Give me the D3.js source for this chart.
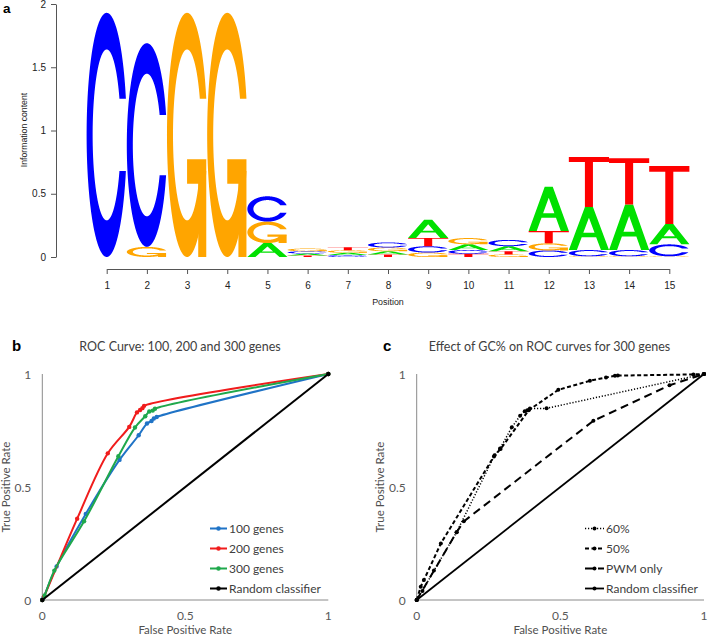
<!DOCTYPE html>
<html><head><meta charset="utf-8">
<script src="https://cdn.jsdelivr.net/npm/d3@7"></script>
<style>body{margin:0;background:#fff}</style>
</head><body>
<svg id="fig" width="708" height="636"></svg>
<script>
// ---------- Panel a: sequence logo data (bits) ----------
const positions = [1,2,3,4,5,6,7,8,9,10,11,12,13,14,15];
const bitsA = [0, 0, 0, 0, 0.11, 0.015, 0.018, 0.025, 0.145, 0.045, 0.04, 0.35, 0.34, 0.36, 0.16];
const bitsC = [1.93, 1.61, 0, 0, 0.20, 0.018, 0.015, 0.04, 0.05, 0.03, 0.05, 0.052, 0.05, 0.05, 0.095];
const bitsG = [0, 0.08, 1.93, 1.93, 0.17, 0.022, 0.02, 0.03, 0.035, 0.05, 0.02, 0.056, 0.005, 0.005, 0.005];
const bitsT = [0, 0, 0, 0, 0, 0.012, 0.025, 0.02, 0.065, 0.025, 0.025, 0.098, 0.395, 0.365, 0.46];
const logoTicks = [0, 0.5, 1, 1.5, 2];
const baseColors = {A:"#00e000", C:"#0000ff", G:"#ffa500", T:"#ff0000"};

// ---------- Panel b: ROC 100/200/300 genes ----------
const fpr100 = [0, 0.004, 0.05, 0.152, 0.27, 0.337, 0.366, 0.382, 0.39, 0.4, 1];
const tpr100 = [0, 0.01, 0.148, 0.381, 0.62, 0.729, 0.781, 0.792, 0.803, 0.81, 1];
const fpr200 = [0, 0.006, 0.122, 0.229, 0.304, 0.331, 0.342, 0.35, 0.356, 1];
const tpr200 = [0, 0.015, 0.36, 0.649, 0.766, 0.83, 0.841, 0.849, 0.859, 1];
const fpr300 = [0, 0.008, 0.042, 0.146, 0.266, 0.324, 0.36, 0.374, 0.386, 0.394, 1];
const tpr300 = [0, 0.02, 0.13, 0.348, 0.636, 0.763, 0.813, 0.834, 0.838, 0.846, 1];
const fprRandom = [0, 1];
const tprRandom = [0, 1];
const namesB = ["100 genes", "200 genes", "300 genes", "Random classifier"];
const colorsB = ["#1f73c6", "#f01c1c", "#1fa84c", "#000000"];

// ---------- Panel c: effect of GC% ----------
const fpr60 = [0, 0.02, 0.06, 0.139, 0.269, 0.29, 0.331, 0.36, 0.376, 0.385, 0.394, 0.452, 1];
const tpr60 = [0, 0.04, 0.13, 0.30, 0.635, 0.67, 0.764, 0.815, 0.835, 0.84, 0.847, 0.848, 1];
const fpr50 = [0, 0.014, 0.025, 0.084, 0.271, 0.292, 0.39, 0.493, 0.603, 0.659, 0.69, 0.70, 0.963, 1];
const tpr50 = [0, 0.059, 0.088, 0.25, 0.64, 0.668, 0.84, 0.93, 0.97, 0.985, 0.992, 0.993, 0.998, 1];
const fprPWM = [0, 0.139, 0.164, 0.615, 0.88, 1];
const tprPWM = [0, 0.30, 0.348, 0.793, 0.95, 1];
const namesC = ["60%", "50%", "PWM only", "Random classifier"];
const rocTicks = [0, 0.5, 1];

const svg = d3.select("#fig");
const ROCFONT = "Lato, 'Open Sans', sans-serif";
const GREY = "#595959";

// ================= Panel a =================
const xA = d3.scaleLinear().domain([1, 15]).range([106.7, 669.3]);
const yA = d3.scaleLinear().domain([0, 2]).range([257, 4]);
const gA = svg.append("g");

// seqLogo-style glyph outlines in unit box (x right, y up)
function arcPts(r, a0, a1, n) {
  return d3.range(n).map(i => { const a = a0 + (a1 - a0) * i / (n - 1); return [0.5 + r * Math.sin(a), 0.5 + r * Math.cos(a)]; });
}
function cShape() {
  const a1 = arcPts(0.5, 0.3 + Math.PI / 2, Math.PI, 100), a2 = arcPts(0.5, Math.PI, 1.5 * Math.PI, 100);
  const l = a1.concat(a2);
  const maxY = d3.max(a1, d => d[1]);
  const outer = l.concat(l.slice().reverse().map(d => [d[0], 1 - d[1]]));
  let i1 = arcPts(0.35, 0.3 + Math.PI / 2, Math.PI, 100).filter(d => d[1] <= maxY);
  i1[0] = [i1[0][0], maxY];
  const il = i1.concat(arcPts(0.35, Math.PI, 1.5 * Math.PI, 100));
  const inner = il.concat(il.slice().reverse().map(d => [d[0], 1 - d[1]]));
  return {poly: outer.concat(inner.slice().reverse()), r1: d3.max(a1, d => d[0])};
}
const glyphs = {
  A: [[[0,0],[0.4,1],[0.6,1],[1,0],[0.8,0],[0.68,0.3],[0.32,0.3],[0.2,0],[0,0]],
      [[0.36,0.4],[0.5,0.75],[0.64,0.4],[0.36,0.4]]],
  T: [[[0,1],[1,1],[1,0.9],[0.6,0.9],[0.6,0],[0.4,0],[0.4,0.9],[0,0.9]]],
  C: [cShape().poly],
  G: (() => { const c = cShape(); const r1 = c.r1, h1 = 0.4;
       return [c.poly, [[r1,h1],[0.5,h1],[0.5,h1-0.1],[r1-0.2,h1-0.1],[r1-0.2,0],[r1,0],[r1,h1]]]; })()
};

function drawLetter(ch, pos, base, h) {
  const xs = d3.scaleLinear().domain([0, 1]).range([xA(pos - 0.5), xA(pos + 0.5)]);
  const ys = d3.scaleLinear().domain([0, 1]).range([yA(base), yA(base + h)]);
  const line = d3.line().x(d => xs(d[0])).y(d => ys(d[1]));
  if (ch === "A") {
    gA.append("path").attr("d", glyphs.A.map(p => line(p) + "Z").join(""))
      .attr("fill", baseColors.A).attr("fill-rule", "evenodd");
  } else {
    glyphs[ch].forEach(p => gA.append("path").attr("d", line(p) + "Z").attr("fill", baseColors[ch]));
  }
}
positions.forEach((p, i) => {
  const letters = [
    {b:"A", v:bitsA[i]}, {b:"C", v:bitsC[i]}, {b:"G", v:bitsG[i]}, {b:"T", v:bitsT[i]}
  ].filter(d => d.v > 0).sort((a, b) => a.v - b.v);
  let base = 0;
  letters.forEach(l => { drawLetter(l.b, p, base, l.v); base += l.v; });
});

const axA = gA.append("g").attr("transform", "translate(56,0)")
  .call(d3.axisLeft(yA).tickValues(logoTicks).tickSize(5).tickSizeOuter(0).tickPadding(5).tickFormat(d => String(d)));
const axAx = gA.append("g").attr("transform", "translate(0,269)")
  .call(d3.axisBottom(xA).tickValues(positions).tickSize(5).tickSizeOuter(0).tickPadding(8).tickFormat(d => String(d)));
[axA, axAx].forEach(a => {
  a.selectAll("path,line").attr("stroke", "#555");
  a.selectAll("text").attr("font-family", "Liberation Sans").attr("font-size", 10).attr("fill", "#222");
});
gA.append("text").text("Position").attr("x", xA(8)).attr("y", 305)
  .attr("text-anchor", "middle").attr("font-family", "Liberation Sans").attr("font-size", 8.9).attr("fill", "#222");
gA.append("text").text("Information content")
  .attr("transform", "translate(27,130) rotate(-90)")
  .attr("text-anchor", "middle").attr("font-family", "Liberation Sans").attr("font-size", 8.7).attr("fill", "#222");
gA.append("text").text("a").attr("x", 3).attr("y", 12.5)
  .attr("font-family", "Liberation Sans").attr("font-weight", "bold").attr("font-size", 13.5).attr("fill", "#000");

// ================= ROC panels =================
function rocPanel(opts) {
  const x = d3.scaleLinear().domain([0, 1]).range([opts.x0, opts.x1]);
  const y = d3.scaleLinear().domain([0, 1]).range([600, 374]);
  const g = svg.append("g");
  g.append("line").attr("x1", x(0)).attr("x2", x(1)).attr("y1", y(0)).attr("y2", y(0)).attr("stroke", "#8a8a8a");
  g.append("line").attr("x1", x(0)).attr("x2", x(0)).attr("y1", y(0)).attr("y2", y(1)).attr("stroke", "#8a8a8a");
  rocTicks.forEach(t => {
    g.append("text").text(String(t)).attr("x", x(0) - 11).attr("y", y(t) + 4.5)
      .attr("text-anchor", "end").attr("font-family", ROCFONT).attr("font-size", 12).attr("fill", GREY);
    g.append("text").text(String(t)).attr("x", x(t)).attr("y", 620)
      .attr("text-anchor", "middle").attr("font-family", ROCFONT).attr("font-size", 12).attr("fill", GREY);
  });
  g.append("text").text("False Positive Rate").attr("x", (x(0) + x(1)) / 2).attr("y", 634)
    .attr("text-anchor", "middle").attr("font-family", ROCFONT).attr("font-size", 11.5).attr("fill", "#505050");
  g.append("text").text("True Positive Rate")
    .attr("transform", `translate(${x(0) - 32.5},${(y(0) + y(1)) / 2}) rotate(-90)`)
    .attr("text-anchor", "middle").attr("font-family", ROCFONT).attr("font-size", 11.5).attr("fill", "#505050");
  g.append("text").text(opts.title).attr("x", opts.titleX).attr("y", 350.5)
    .attr("text-anchor", "middle").attr("font-family", ROCFONT).attr("font-size", 12.5).attr("fill", "#404040");
  g.append("text").text(opts.letter).attr("x", opts.letterX).attr("y", 350.5)
    .attr("font-family", "Liberation Sans").attr("font-weight", "bold").attr("font-size", 15).attr("fill", "#000");

  opts.series.forEach(s => {
    const pts = s.fpr.map((f, i) => [f, s.tpr[i]]);
    const line = d3.line().x(d => x(d[0])).y(d => y(d[1])).curve(opts.curve);
    g.append("path").attr("d", line(pts)).attr("fill", "none").attr("stroke", s.color)
      .attr("stroke-width", s.width).attr("stroke-dasharray", s.dash || null);
    g.selectAll(null).data(pts).enter().append("circle")
      .attr("cx", d => x(d[0])).attr("cy", d => y(d[1])).attr("r", s.r).attr("fill", s.color);
  });
  opts.series.forEach((s, i) => {
    const ly = 528.5 + i * 20;
    g.append("line").attr("x1", opts.legX).attr("x2", opts.legX + opts.legW).attr("y1", ly).attr("y2", ly)
      .attr("stroke", s.color).attr("stroke-width", s.width).attr("stroke-dasharray", s.dash || null);
    g.append("circle").attr("cx", opts.legX + opts.legW / 2).attr("cy", ly).attr("r", s.r).attr("fill", s.color);
    g.append("text").text(s.name).attr("x", opts.legX + opts.legW + 2).attr("y", ly + 4.3)
      .attr("font-family", ROCFONT).attr("font-size", 12).attr("fill", "#404040");
  });
}

rocPanel({
  x0: 42.3, x1: 328.3, title: "ROC Curve: 100, 200 and 300 genes", titleX: 180,
  letter: "b", letterX: 12, legX: 210, legW: 17,
  curve: d3.curveCatmullRom.alpha(0.5),
  series: [
    {name: namesB[0], fpr: fpr100, tpr: tpr100, color: colorsB[0], width: 2, r: 2.2},
    {name: namesB[1], fpr: fpr200, tpr: tpr200, color: colorsB[1], width: 2, r: 2.2},
    {name: namesB[2], fpr: fpr300, tpr: tpr300, color: colorsB[2], width: 2, r: 2.2},
    {name: namesB[3], fpr: fprRandom, tpr: tprRandom, color: colorsB[3], width: 2, r: 2.2}
  ]
});

rocPanel({
  x0: 416.7, x1: 704, title: "Effect of GC% on ROC curves for 300 genes", titleX: 549.5,
  letter: "c", letterX: 383, legX: 585, legW: 19,
  curve: d3.curveLinear,
  series: [
    {name: namesC[0], fpr: fpr60, tpr: tpr60, color: "#000", width: 1.5, r: 2, dash: "1.2,1.8"},
    {name: namesC[1], fpr: fpr50, tpr: tpr50, color: "#000", width: 2, r: 2, dash: "4,2.5"},
    {name: namesC[2], fpr: fprPWM, tpr: tprPWM, color: "#000", width: 2, r: 2, dash: "8,5"},
    {name: namesC[3], fpr: fprRandom, tpr: tprRandom, color: "#000", width: 1.8, r: 2}
  ]
});
</script>
</body></html>
